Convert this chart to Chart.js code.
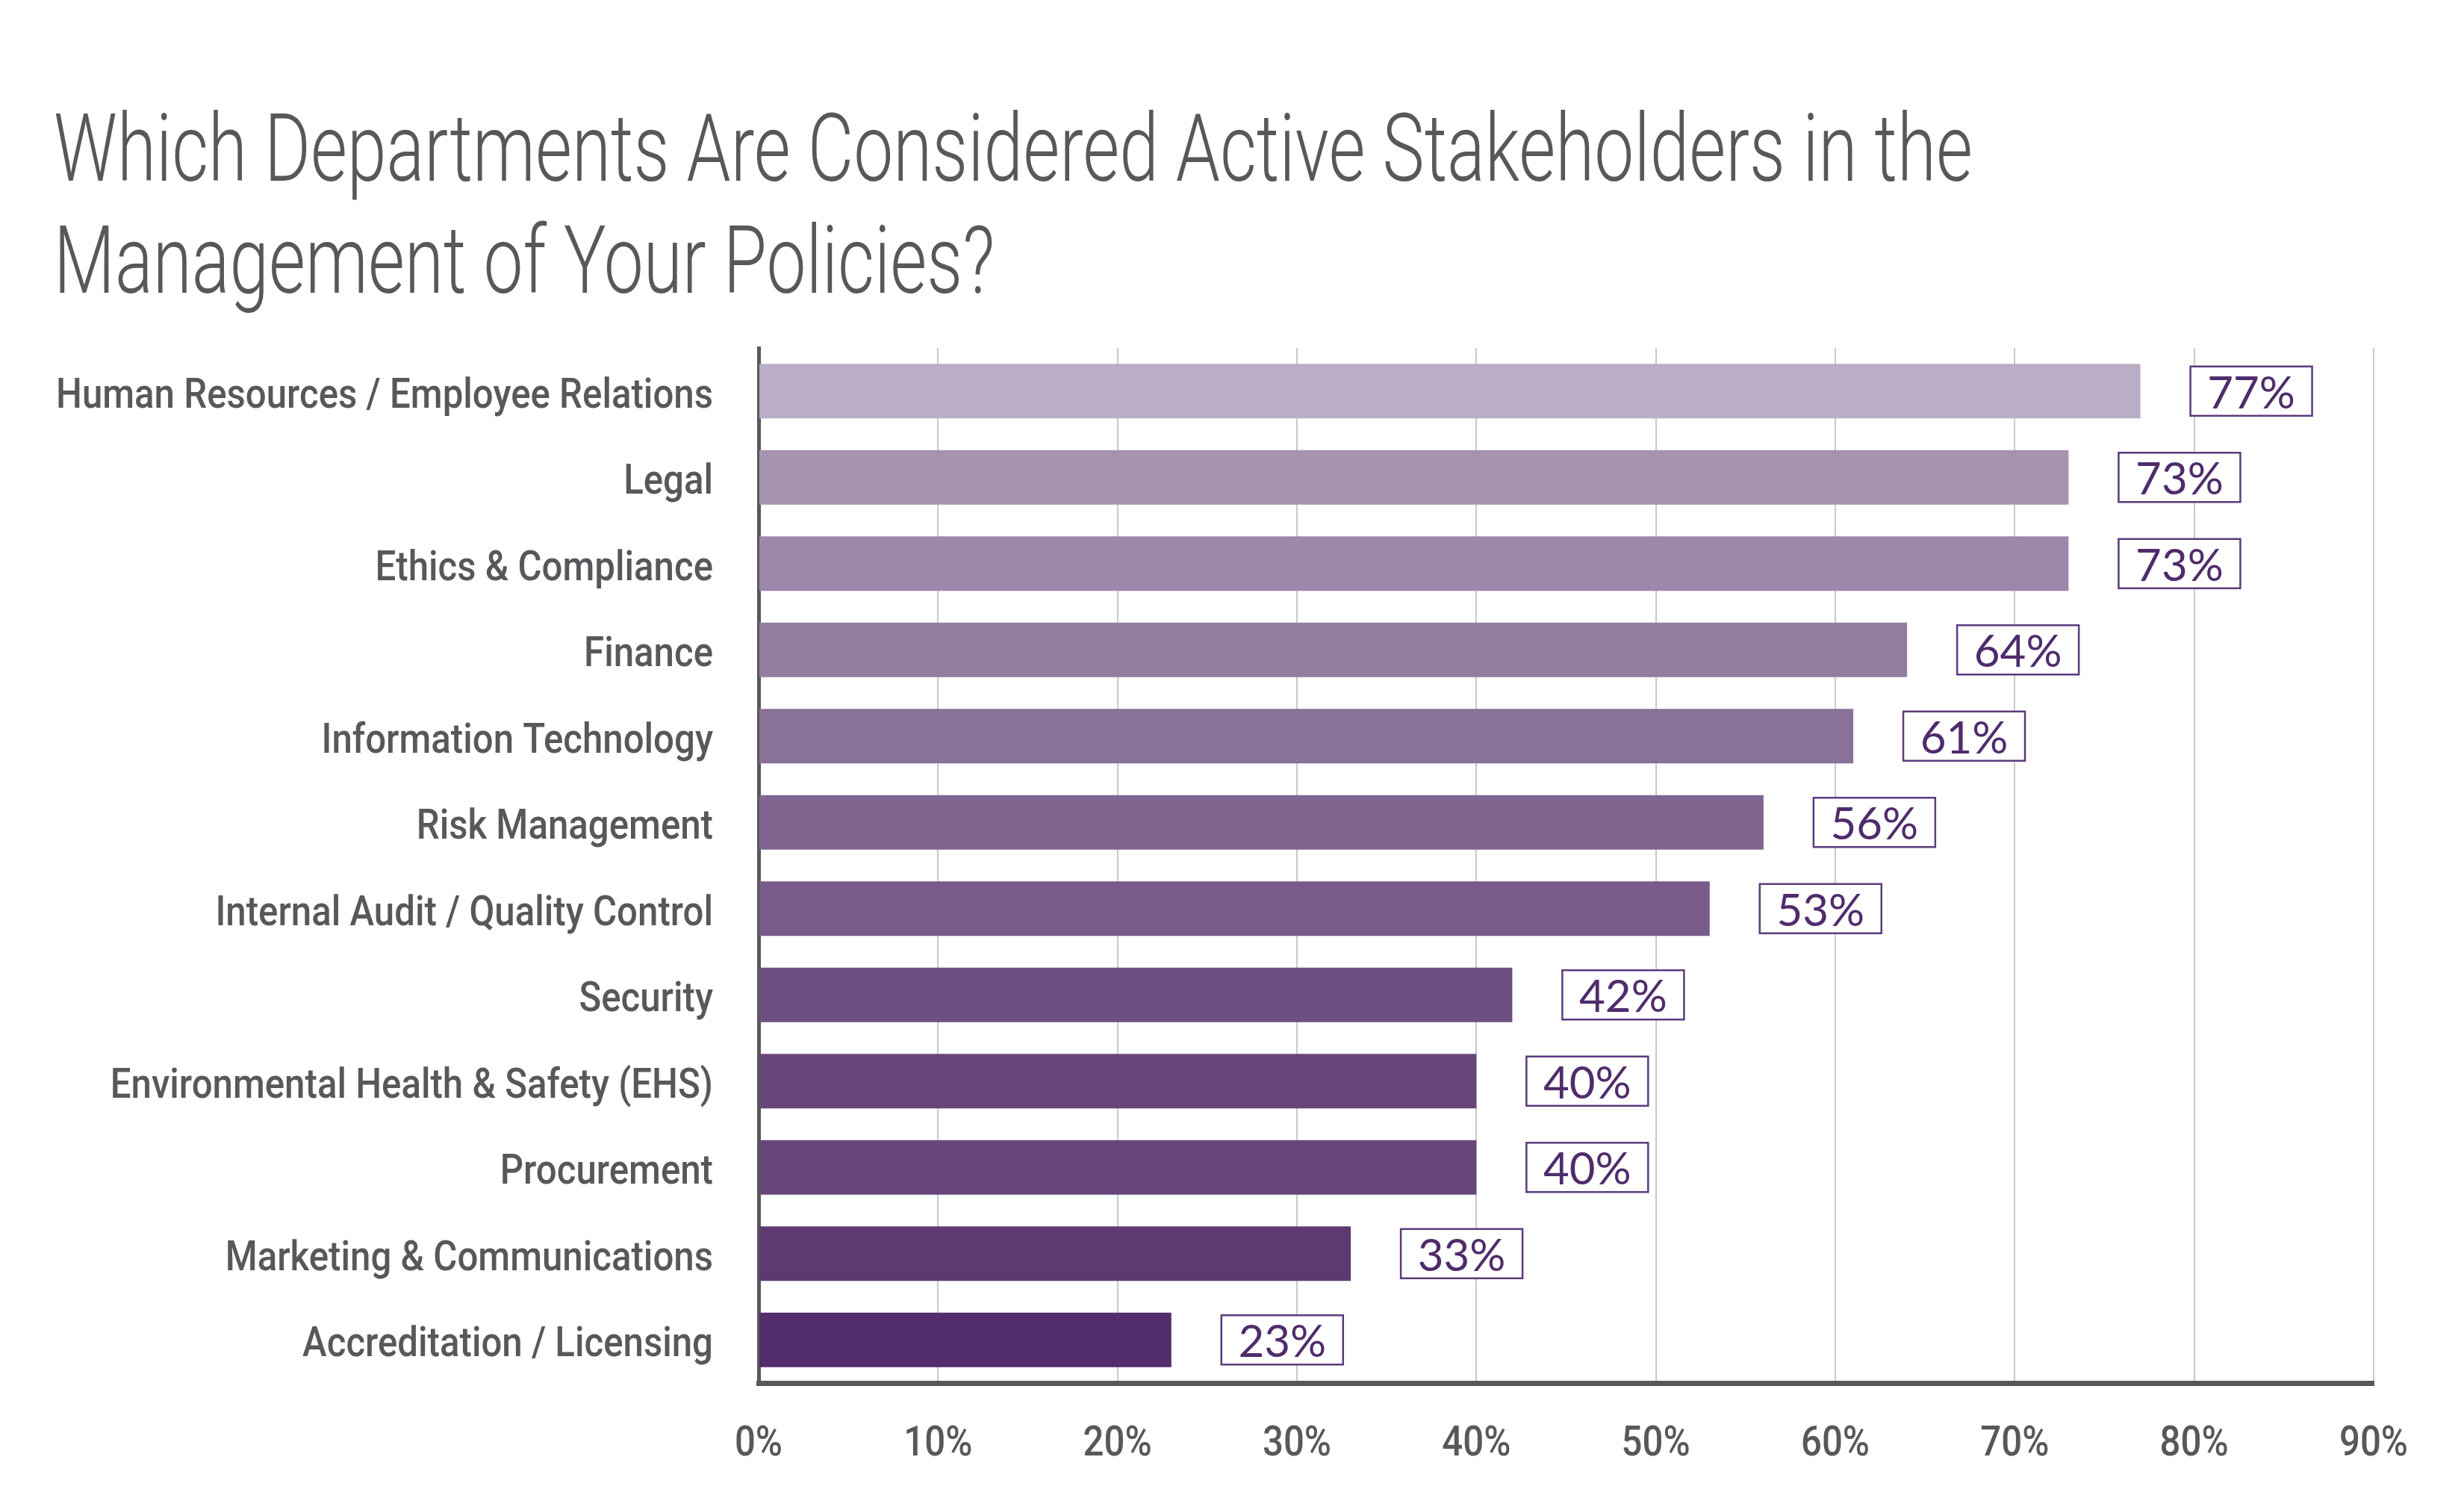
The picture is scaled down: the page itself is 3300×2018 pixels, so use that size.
<!DOCTYPE html>
<html>
<head>
<meta charset="utf-8">
<script src="https://cdn.jsdelivr.net/npm/chart.js@4/dist/chart.umd.min.js"></script>
<style>
  html, body { margin: 0; padding: 0; background: #ffffff; }
  #wrap { position: relative; width: 3300px; height: 2018px; overflow: hidden; }
  #title { position: absolute; left: 72px; top: 124px; margin: 0; color: #58585c;
    font-family: Roboto, "Liberation Sans", sans-serif; font-weight: 300; font-size: 127px;
    line-height: 150px; white-space: nowrap; transform-origin: 0 0; }
  #title span { display: block; }
  canvas { position: absolute; left: 0; top: 0; }
</style>
</head>
<body>
<div id="wrap">
  <canvas id="c" width="3300" height="2018"></canvas>
  <h1 id="title"><span id="t1">Which Departments Are Considered Active Stakeholders in the</span><span>Management of Your Policies?</span></h1>
</div>
<script>
const categories = [
  'Human Resources / Employee Relations',
  'Legal',
  'Ethics & Compliance',
  'Finance',
  'Information Technology',
  'Risk Management',
  'Internal Audit / Quality Control',
  'Security',
  'Environmental Health & Safety (EHS)',
  'Procurement',
  'Marketing & Communications',
  'Accreditation / Licensing'
];
const values = [77, 73, 73, 64, 61, 56, 53, 42, 40, 40, 33, 23];
const barColors = [
  '#baadc6', '#a593b0', '#9d87aa', '#937ea1', '#8a7199', '#806591',
  '#785b8a', '#6e4f81', '#674679', '#674679', '#5e3a73', '#532d6c'
];
const xTickLabels = ['0%', '10%', '20%', '30%', '40%', '50%', '60%', '70%', '80%', '90%'];

// fit title width
const t1 = document.getElementById('t1');
const title = document.getElementById('title');
const natural = t1.getBoundingClientRect().width;
title.style.transform = 'scaleX(' + (2570 / natural) + ')';

// condensed axis label font: horizontal squeeze computed from the longest label
const AXIS_FAMILY = 'Roboto';
const AXIS_SIZE = 56;
const AXIS_WEIGHT = 500;
const mctx = document.createElement('canvas').getContext('2d');
mctx.font = AXIS_WEIGHT + ' ' + AXIS_SIZE + 'px ' + AXIS_FAMILY;
const squeeze = Math.min(1, 880 / mctx.measureText(categories[0]).width);

const condense = {
  id: 'condense',
  beforeDraw(chart) {
    const ctx = chart.ctx;
    if (ctx.__origFill) return;
    const orig = ctx.fillText;
    ctx.__origFill = orig;
    ctx.fillText = function (text, x, y, maxW) {
      if (this.font.indexOf(AXIS_FAMILY) !== -1) {
        const dy = this.textAlign === 'right' ? 8 : 3;
        this.save();
        this.translate(x, y + dy);
        this.scale(squeeze, 1);
        orig.call(this, text, 0, 0);
        this.restore();
      } else {
        orig.call(this, text, x, y, maxW);
      }
    };
  }
};

const boxLabels = {
  id: 'boxLabels',
  afterDatasetsDraw(chart) {
    const ctx = chart.ctx;
    const meta = chart.getDatasetMeta(0);
    ctx.save();
    meta.data.forEach((bar, i) => {
      const bx = bar.x + 67;
      const bw = 163, bh = 66;
      const by = bar.y - bh / 2;
      ctx.fillStyle = '#ffffff';
      ctx.fillRect(bx, by, bw, bh);
      ctx.strokeStyle = '#5b3b7d';
      ctx.lineWidth = 2.5;
      ctx.strokeRect(bx, by, bw, bh);
      ctx.fillStyle = '#4f2c6b';
      ctx.font = '60px Lato, "Open Sans", sans-serif';
      ctx.textAlign = 'center';
      ctx.textBaseline = 'alphabetic';
      ctx.fillText(values[i] + '%', bx + bw / 2, bar.y + 23);
    });
    ctx.restore();
  }
};

const axisFont = { family: AXIS_FAMILY, size: AXIS_SIZE, weight: AXIS_WEIGHT };

new Chart(document.getElementById('c'), {
  type: 'bar',
  data: {
    labels: categories,
    datasets: [{
      data: values,
      backgroundColor: barColors,
      borderWidth: 0,
      categoryPercentage: 1,
      barPercentage: 0.632
    }]
  },
  options: {
    indexAxis: 'y',
    responsive: false,
    animation: false,
    devicePixelRatio: 1,
    layout: { padding: { top: 466, right: 121, left: 0, bottom: 0 } },
    plugins: { legend: { display: false }, tooltip: { enabled: false }, title: { display: false } },
    scales: {
      x: {
        min: 0, max: 90,
        ticks: {
          stepSize: 10,
          padding: 46,
          color: '#58585c',
          font: axisFont,
          callback: (v, i) => xTickLabels[i]
        },
        grid: { color: '#c9c9c9', lineWidth: 2, drawTicks: false },
        border: { color: '#58585c', width: 7 },
        afterFit: (s) => { s.height = 166; }
      },
      y: {
        ticks: {
          padding: 61,
          color: '#58585c',
          font: axisFont
        },
        grid: { display: false, drawTicks: false },
        border: { color: '#58585c', width: 5 },
        afterFit: (s) => { s.width = 1016; }
      }
    }
  },
  plugins: [condense, boxLabels]
});
</script>
</body>
</html>
